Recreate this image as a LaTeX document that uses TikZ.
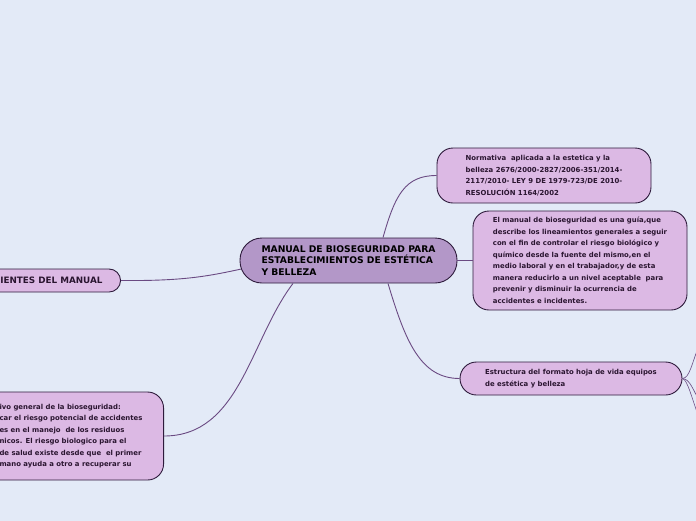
\documentclass[tikz,border=0pt]{standalone}
\usepackage{fontspec}
\newfontfamily\vfont{DejaVu Sans}
\definecolor{bgc}{HTML}{E3EAF7}
\definecolor{mainfill}{HTML}{B397C8}
\definecolor{subfill}{HTML}{DCB9E4}
\definecolor{edgec}{HTML}{2E1B3C}
\definecolor{linkc}{HTML}{6A4A82}
\definecolor{txtc}{HTML}{2A1530}
\tikzset{
  mainbox/.style={draw=edgec, fill=mainfill, line width=0.9pt, rounded corners=22pt,
    minimum width=217pt, minimum height=45pt, align=left, text=black, inner sep=0pt,
    font=\vfont\bfseries\fontsize{9.2}{11.5}\selectfont},
  subbox/.style={draw=edgec, fill=subfill, line width=0.9pt, rounded corners=16pt,
    align=left, text=txtc, inner sep=0pt,
    font=\vfont\bfseries\fontsize{6.9}{11.5}\selectfont},
  link/.style={draw=linkc, line width=0.9pt}
}
\begin{document}
\begin{tikzpicture}[x=1pt,y=-1pt]
\useasboundingbox (0,0) rectangle (696,520);
\clip (0,0) rectangle (696,520);
\fill[bgc] (-10,-10) rectangle (710,530);

% nodes
\node[mainbox] (c) at (348.5,260.5) {MANUAL DE BIOSEGURIDAD PARA\\ESTABLECIMIENTOS DE ESTÉTICA\\Y BELLEZA};

\node[subbox, minimum width=214pt, minimum height=55pt] (n1) at (544,175.5)
 {Normativa\ \ aplicada a la estetica y la\\belleza 2676/2000-2827/2006-351/2014-\\2117/2010- LEY 9 DE 1979-723/DE 2010-\\RESOLUCIÓN 1164/2002};

\node[subbox, minimum width=214pt, minimum height=99pt] (n2) at (580,260.5)
 {El manual de bioseguridad es una guía,que\\describe los lineamientos generales a seguir\\con el fin de controlar el riesgo biológico y\\químico desde la fuente del mismo,en el\\medio laboral y en el trabajador,y de esta\\manera reducirlo a un nivel aceptable\ \ para\\prevenir y disminuir la ocurrencia de\\accidentes e incidentes.};

\node[subbox, rounded corners=16.5pt, minimum width=222pt, minimum height=33pt] (n3) at (571,378.5)
 {Estructura del formato hoja de vida equipos\\de estética y belleza};

\node[subbox, rounded corners=11.5pt, minimum height=23pt, anchor=east,
  font=\vfont\bfseries\fontsize{8.8}{11}\selectfont] (n4) at (121,280.5)
 {\makebox[190pt][r]{IENTES DEL MANUAL\hspace*{18pt}}};

\node[subbox, minimum height=88pt, anchor=east] (n5) at (164,436)
 {\makebox[300pt][r]{\parbox[c]{164pt}{\raggedright
 ivo general de la bioseguridad:\\
 car el riesgo potencial de accidentes\\
 es en el manejo\ \ de los residuos\\
 nicos. El riesgo biologico para el\\
 de salud existe desde que\ \ el primer\\
 mano ayuda a otro a recuperar su}}};

% free ends
\coordinate (r1) at (700,343);
\coordinate (r2) at (700,402);
\coordinate (r3) at (700,420);

% connectors
\draw[link] ([xshift=34.5pt]c.north) .. controls (395,195) and (405,175.5) .. (n1.west);
\draw[link] (c.east) -- (n2.west);
\draw[link] ([xshift=39.5pt]c.south) .. controls (405,340) and (420,378.5) .. (n3.west);
\draw[link] (n4.east) .. controls (180,281) and (205,277) .. ([xshift=1.7pt,yshift=-8.5pt]c.west);
\draw[link] ([xshift=-55.5pt]c.south) .. controls (250,340) and (240,436) .. (n5.east);
\draw[link, line width=0.6pt] (n3.east) .. controls (690,378) and (692,362) .. (r1);
\draw[link, line width=0.6pt] (n3.east) .. controls (690,379) and (693,390) .. (r2);
\draw[link, line width=0.6pt] (n3.east) .. controls (688,380) and (692,400) .. (r3);
\end{tikzpicture}
\end{document}
